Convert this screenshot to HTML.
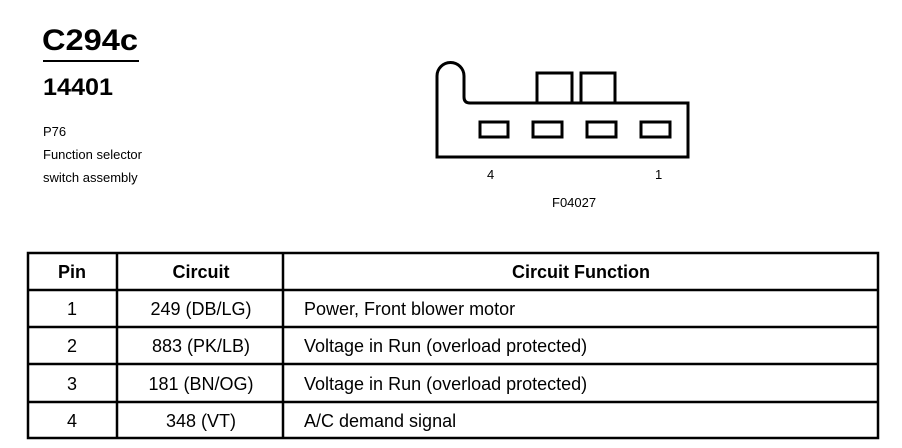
<!DOCTYPE html>
<html><head><meta charset="utf-8"><style>
html,body{margin:0;padding:0;background:#fff;width:902px;height:448px;overflow:hidden}
text{font-family:"Liberation Sans",Arial,sans-serif;fill:#000}
</style></head><body>
<svg width="902" height="448" viewBox="0 0 902 448" xmlns="http://www.w3.org/2000/svg">
<text x="42" y="50" font-size="30" font-weight="bold" textLength="96" lengthAdjust="spacingAndGlyphs">C294c</text>
<line x1="43" y1="61" x2="139" y2="61" stroke="#000" stroke-width="2"/>
<text x="43" y="95" font-size="24" font-weight="bold" textLength="70" lengthAdjust="spacingAndGlyphs">14401</text>
<text x="43" y="136" font-size="13">P76</text>
<text x="43" y="159" font-size="13">Function selector</text>
<text x="43" y="182" font-size="13">switch assembly</text>

<g fill="none" stroke="#000" stroke-width="3">
<path d="M437 157 L437 76 A13.5 13.5 0 0 1 464 76 L464 97 Q464 103 470 103 L688 103 L688 157 Z"/>
<rect x="537" y="73" width="35" height="30"/>
<rect x="581" y="73" width="34" height="30"/>
<rect x="480" y="122" width="28" height="15"/>
<rect x="533" y="122" width="29" height="15"/>
<rect x="587" y="122" width="29" height="15"/>
<rect x="641" y="122" width="29" height="15"/>
</g>
<text x="487" y="179" font-size="13">4</text>
<text x="655" y="179" font-size="13">1</text>
<text x="552" y="207" font-size="13">F04027</text>

<g stroke="#000" stroke-width="2.5" fill="none">
<rect x="28" y="253" width="850" height="185"/>
<line x1="28" y1="290" x2="878" y2="290"/>
<line x1="28" y1="327" x2="878" y2="327"/>
<line x1="28" y1="364" x2="878" y2="364"/>
<line x1="28" y1="402" x2="878" y2="402"/>
<line x1="117" y1="253" x2="117" y2="438"/>
<line x1="283" y1="253" x2="283" y2="438"/>
</g>
<g font-size="18" text-anchor="middle">
<text x="72" y="278" font-weight="bold">Pin</text>
<text x="201" y="278" font-weight="bold">Circuit</text>
<text x="581" y="278" font-weight="bold">Circuit Function</text>
<text x="72" y="315">1</text><text x="201" y="315">249 (DB/LG)</text>
<text x="72" y="352">2</text><text x="201" y="352">883 (PK/LB)</text>
<text x="72" y="390">3</text><text x="201" y="390">181 (BN/OG)</text>
<text x="72" y="427">4</text><text x="201" y="427">348 (VT)</text>
</g>
<g font-size="18">
<text x="304" y="315">Power, Front blower motor</text>
<text x="304" y="352">Voltage in Run (overload protected)</text>
<text x="304" y="390">Voltage in Run (overload protected)</text>
<text x="304" y="427">A/C demand signal</text>
</g>
</svg>
</body></html>
